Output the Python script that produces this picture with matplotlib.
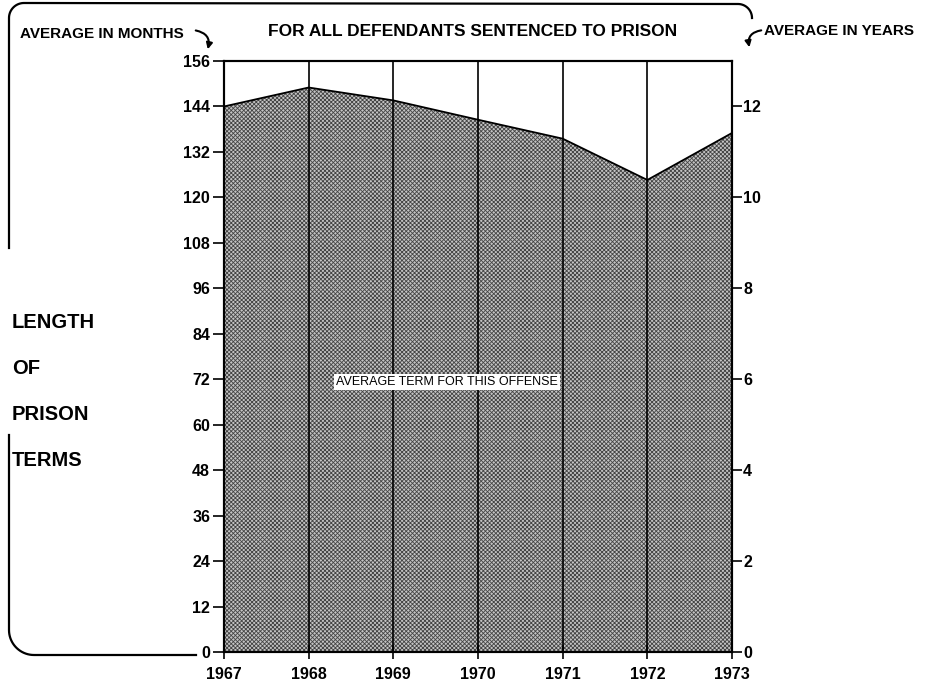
import matplotlib
matplotlib.use('Agg')
import matplotlib.pyplot as plt
from matplotlib.patches import FancyArrowPatch
from matplotlib.lines import Line2D
import numpy as np

plt.rcParams['font.family'] = ['Liberation Sans', 'DejaVu Sans']
plt.rcParams['hatch.linewidth'] = 0.6

years = [1967, 1968, 1969, 1970, 1971, 1972, 1973]
avg_months = [144, 149, 145.6, 140.5, 135.5, 124.6, 137]
month_ticks = list(range(0, 157, 12))
year_ticks = list(range(0, 13, 2))

W, H = 938, 690
fig = plt.figure(figsize=(W / 100, H / 100), dpi=100)
ax = fig.add_axes([224 / W, 1 - 652 / H, (732 - 224) / W, (652 - 61) / H])

ax.fill_between(years, 0, avg_months, facecolor='#c4c4c4', edgecolor='#444444',
                hatch='xxxxxxxx', linewidth=0, zorder=1)
ax.plot(years, avg_months, color='black', lw=1.3, zorder=3)
for yr in years:
    ax.axvline(yr, color='black', lw=1.2, zorder=2)

ax.set_xlim(years[0], years[-1])
ax.set_ylim(0, 156)
ax.set_yticks(month_ticks)
ax.set_xticks(years)
ax.set_xticklabels([str(y) for y in years], fontsize=11.5, fontweight='bold')
ax.set_yticklabels([str(m) for m in month_ticks], fontsize=11.5, fontweight='bold')
ax.tick_params(axis='y', direction='out', length=8, width=1.2, pad=2)
ax.tick_params(axis='x', direction='inout', length=10, width=1.2, pad=6)
for s in ax.spines.values():
    s.set_linewidth(1.5)

ax2 = ax.twinx()
ax2.set_ylim(0, 13)
ax2.set_yticks(year_ticks)
ax2.set_yticklabels([str(y) for y in year_ticks], fontsize=11.5, fontweight='bold')
ax2.tick_params(axis='y', direction='out', length=7, width=1.2, pad=1)
for s in ax2.spines.values():
    s.set_linewidth(1.5)

ax.text(0.439, 0.457, 'AVERAGE TERM FOR THIS OFFENSE', transform=ax.transAxes,
        ha='center', va='center', fontsize=9, zorder=4,
        bbox=dict(facecolor='white', edgecolor='none', pad=1.5))

# figure-level texts (pixel coordinates converted)
def fx(x):
    return x / W

def fy(y):
    return 1 - y / H

fig.text(fx(473), fy(32), 'FOR ALL DEFENDANTS SENTENCED TO PRISON', ha='center',
         va='center', fontsize=12.5, fontweight='bold')
fig.text(fx(20), fy(34), 'AVERAGE IN MONTHS', ha='left', va='center',
         fontsize=11, fontweight='bold')
fig.text(fx(764), fy(31), 'AVERAGE IN YEARS', ha='left', va='center',
         fontsize=11, fontweight='bold')
for i, word in enumerate(['LENGTH', 'OF', 'PRISON', 'TERMS']):
    fig.text(fx(12), fy(322 + i * 46), word, ha='left', va='center',
             fontsize=14.5, fontweight='bold')

# curved arrows
fig.patches.append(FancyArrowPatch((fx(193), fy(30)), (fx(207), fy(52)),
                                   transform=fig.transFigure, arrowstyle='-|>',
                                   mutation_scale=9, lw=1.5, color='black',
                                   connectionstyle='arc3,rad=-0.6'))
fig.patches.append(FancyArrowPatch((fx(764), fy(30)), (fx(750), fy(50)),
                                   transform=fig.transFigure, arrowstyle='-|>',
                                   mutation_scale=9, lw=1.5, color='black',
                                   connectionstyle='arc3,rad=0.6'))

# bracket
def arc(cx, cy, r, a0, a1, n=20):
    t = np.radians(np.linspace(a0, a1, n))
    return list(cx + r * np.cos(t)), list(cy - r * np.sin(t))

xs, ys = arc(738, 18, 14, 0, 90)
bx, by = arc(24, 18, 15, 90, 180)
top_x = xs + bx + [9, 9]
top_y = ys + by + [18, 248]
fig.add_artist(Line2D([fx(v) for v in top_x], [fy(v) for v in top_y],
                      transform=fig.transFigure, color='black', lw=1.6))

cx, cy = arc(34, 630, 25, 180, 270)
bot_x = [9] + cx + [196]
bot_y = [435] + cy + [655]
fig.add_artist(Line2D([fx(v) for v in bot_x], [fy(v) for v in bot_y],
                      transform=fig.transFigure, color='black', lw=1.6))

fig.savefig('out.png', dpi=100)
